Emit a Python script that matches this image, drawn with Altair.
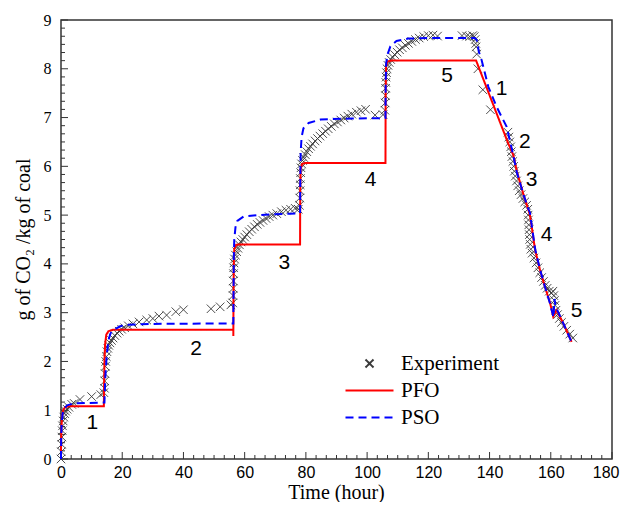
import altair as alt
import pandas as pd

# ---------------- data ----------------
exp_time = [0, 0.1, 0.2, 0.3, 0.4, 0.5, 0.7, 0.9, 1.2, 1.5, 2.0, 2.6, 3.5, 4.3, 6.2, 10.0, 13.0, 14.0,
            14.2, 14.3, 14.4, 14.5, 14.6, 14.8, 15.0, 15.3, 15.6, 16.0, 16.5, 17.0, 17.6, 18.3, 19.0, 19.8,
            20.8, 22.0, 23.5, 25.5, 28.0, 30.0, 32.0, 34.5, 37.5, 40.0, 49.0, 52.0, 55.5,
            56.1, 56.2, 56.25, 56.3, 56.35, 56.4, 56.5, 56.7, 57.0, 57.4, 57.8, 58.3, 58.8, 59.4, 60.0, 60.7,
            61.5, 62.3, 63.2, 64.1, 65.0, 66.0, 67.0, 68.0, 69.2, 70.5, 72.0, 73.5, 75.0, 76.5, 77.5,
            77.9, 78.0, 78.1, 78.15, 78.2, 78.3, 78.4, 78.6, 78.9, 79.3, 79.8, 80.3, 80.9, 81.5, 82.2, 83.0,
            83.8, 84.6, 85.5, 86.4, 87.3, 88.3, 89.3, 90.3, 91.4, 92.5, 93.7, 95.0, 96.5, 98.0, 99.5, 102.6, 105.2,
            105.8, 105.9, 106.0, 106.05, 106.1, 106.2, 106.35, 106.5, 106.8, 107.2, 107.7, 108.3, 109.0, 109.8,
            110.6, 111.5, 112.5, 113.5, 114.6, 115.8, 117.0, 118.5, 120.0, 121.5, 123.0, 131.0, 132.5, 133.5,
            134.5, 135.0, 135.3, 135.5,
            135.6, 135.8, 136.2, 137.8, 140.3, 146.0, 146.3, 146.6, 146.9, 147.1, 147.3, 147.6, 147.9, 148.1,
            148.4, 148.8, 149.2, 149.7, 150.3, 150.9, 151.5, 152.1, 152.5, 152.6, 152.7, 152.8, 152.9, 153.0,
            153.1, 153.3, 153.5, 153.9, 154.5, 155.2, 155.8, 156.4, 157.0, 157.6, 158.2, 158.8, 159.5, 160.2,
            160.7, 161.0, 161.2, 161.4, 161.7, 162.2, 162.8, 163.5, 164.3, 165.2, 166.2, 167.2]
exp_co2 = [0, 0.15, 0.3, 0.45, 0.58, 0.68, 0.78, 0.86, 0.93, 0.98, 1.02, 1.06, 1.12, 1.14, 1.22, 1.28, 1.32, 1.36,
           1.45, 1.6, 1.75, 1.9, 2.0, 2.1, 2.2, 2.27, 2.33, 2.38, 2.43, 2.48, 2.53, 2.58, 2.62, 2.66,
           2.69, 2.73, 2.77, 2.81, 2.85, 2.88, 2.93, 2.95, 3.02, 3.06, 3.08, 3.12, 3.16,
           3.2, 3.35, 3.5, 3.65, 3.8, 3.92, 4.02, 4.1, 4.18, 4.25, 4.32, 4.39, 4.45, 4.5, 4.55, 4.6,
           4.66, 4.71, 4.76, 4.81, 4.85, 4.89, 4.93, 4.97, 5.0, 5.03, 5.07, 5.1, 5.12, 5.14, 5.12,
           5.2, 5.35, 5.5, 5.62, 5.75, 5.87, 5.97, 6.05, 6.12, 6.18, 6.24, 6.3, 6.36, 6.41, 6.46, 6.52,
           6.57, 6.62, 6.67, 6.72, 6.77, 6.82, 6.87, 6.91, 6.95, 6.99, 7.03, 7.07, 7.11, 7.14, 7.17, 7.05, 7.06,
           7.15, 7.3, 7.45, 7.6, 7.72, 7.83, 7.92, 8.0, 8.07, 8.13, 8.19, 8.24, 8.29, 8.34,
           8.39, 8.43, 8.48, 8.52, 8.56, 8.6, 8.63, 8.66, 8.68, 8.69, 8.67, 8.68, 8.67, 8.66,
           8.68, 8.66, 8.6, 8.52,
           8.45, 8.3, 8.0, 7.57, 7.16, 6.7, 6.6, 6.5, 6.4, 6.3, 6.2, 6.1, 6.0, 5.9,
           5.8, 5.7, 5.6, 5.5, 5.42, 5.34, 5.27, 5.2, 5.12, 5.0, 4.9, 4.8, 4.7, 4.6,
           4.5, 4.4, 4.3, 4.22, 4.12, 4.02, 3.92, 3.82, 3.72, 3.64, 3.56, 3.5, 3.44, 3.4,
           3.44, 3.35, 3.25, 3.15, 3.05, 2.96, 2.88, 2.8, 2.72, 2.64, 2.56, 2.48]

pfo_time = [0, 0.1, 0.3, 0.7, 1.3, 2.5, 14.0,
            14.05, 14.2, 14.4, 14.8, 15.5, 17.0, 56.3,
            56.3, 56.35, 56.45, 56.6, 57.2, 58.5, 78.1,
            78.15, 78.3, 78.8, 80.0, 106.0,
            106.05, 106.2, 106.6, 108.0, 135.6,
            146.1, 147.3, 147.8, 148.9, 151.0, 152.7, 153.2, 153.8, 154.9, 156.5, 158.1, 159.8,
            160.8, 161.9, 164.1, 166.8]
pfo_co2 = [0.15, 0.55, 0.85, 1.0, 1.06, 1.08, 1.08,
           1.4, 2.0, 2.35, 2.55, 2.62, 2.65, 2.65,
           2.52, 3.3, 4.0, 4.3, 4.39, 4.4, 4.4,
           5.5, 5.95, 6.05, 6.07, 6.07,
           7.5, 8.05, 8.15, 8.17, 8.17,
           6.47, 6.3, 6.22, 5.9, 5.44, 5.1, 5.0, 4.75, 4.28, 3.87, 3.53, 3.19,
           2.92, 3.05, 2.78, 2.4]

pso_time = [0, 0.05, 0.2, 0.5, 1.0, 2.0, 4.0, 14.2,
            14.25, 14.5, 14.9, 15.5, 16.2, 17.1, 19.3, 22.0, 30.0, 56.3,
            56.35, 56.45, 56.6, 57.0, 57.6, 59.6, 63.9, 74.8, 78.1,
            78.15, 78.3, 78.6, 79.2, 80.9, 84.8, 95.0, 106.0,
            106.05, 106.2, 106.7, 107.6, 109.6, 113.5, 120.0, 135.2,
            135.8, 136.5, 137.4, 139.6, 142.3, 145.6, 147.3, 148.9, 151.0, 152.7, 153.2, 153.8,
            154.9, 156.5, 158.1, 159.8, 160.9, 161.2, 161.5, 162.5, 164.1, 166.8]
pso_co2 = [0.0, 0.4, 0.7, 0.92, 1.03, 1.1, 1.14, 1.16,
           1.3, 1.7, 2.1, 2.44, 2.58, 2.64, 2.72, 2.75, 2.77, 2.78,
           3.3, 4.1, 4.5, 4.75, 4.88, 4.97, 5.0, 5.03, 5.04,
           5.6, 6.3, 6.6, 6.78, 6.89, 6.96, 6.98, 6.99,
           7.6, 8.1, 8.3, 8.46, 8.57, 8.62, 8.63, 8.63,
           8.59, 8.35, 8.18, 7.63, 7.22, 6.81, 6.35, 5.88, 5.44, 5.12, 5.05, 4.78,
           4.3, 3.88, 3.53, 3.18, 2.9, 3.28, 3.15, 3.0, 2.78, 2.4]

label_text = ["1", "2", "3", "4", "5", "1", "2", "3", "4", "5"]
label_time = [10.2, 44.1, 73.0, 101.1, 126.1, 143.9, 151.5, 153.7, 158.6, 168.4]
label_co2 = [0.73, 2.26, 4.01, 5.72, 7.86, 7.59, 6.5, 5.72, 4.59, 3.04]

series_names = ["Experiment", "PFO", "PSO"]
x_tick_labels = [0, 20, 40, 60, 80, 100, 120, 140, 160, 180]
y_tick_labels = [0, 1, 2, 3, 4, 5, 6, 7, 8, 9]

# ---------------- tables ----------------
exp_df = pd.DataFrame({"t": exp_time, "v": exp_co2, "series": "Experiment"})
model_df = pd.concat([
    pd.DataFrame({"t": pfo_time, "v": pfo_co2, "series": "PFO", "idx": range(len(pfo_time))}),
    pd.DataFrame({"t": pso_time, "v": pso_co2, "series": "PSO", "idx": range(len(pso_time))}),
], ignore_index=True)
lab_df = pd.DataFrame({"t": label_time, "v": label_co2, "txt": label_text})

minor_x = [i * 20 / 6 for i in range(55) if i % 6 != 0]
minor_y = [i / 6 for i in range(55) if i % 6 != 0]
xmaj_df = pd.DataFrame({"t": x_tick_labels})
xmin_df = pd.DataFrame({"t": minor_x})
ymaj_df = pd.DataFrame({"v": y_tick_labels})
ymin_df = pd.DataFrame({"v": minor_y})

W, H = 551, 439
xs = alt.Scale(domain=[0, 180], nice=False, zero=False)
ys = alt.Scale(domain=[0, 9], nice=False, zero=False)
x_axis = alt.Axis(
    values=x_tick_labels, title="Time (hour)",
    labelAlign={"condition": {"test": "datum.value === 180", "value": "right"}, "value": "center"},
    labelOffset={"condition": {"test": "datum.value === 180", "value": 7}, "value": 0},
)
y_axis = alt.Axis(values=y_tick_labels, title="g of CO\u2082 /kg of coal")

color_scale = alt.Scale(domain=series_names, range=["#3a3a3a", "#ff0000", "#0000ff"])
shape_scale = alt.Scale(domain=series_names,
                        range=["M-1,-1L1,1M-1,1L1,-1", "M-6,0L6,0", "M-6,0L6,0"])
dash_scale = alt.Scale(domain=series_names, range=[[1, 0], [1, 0], [8, 5]])

X = alt.X("t:Q", scale=xs, axis=x_axis)
Y = alt.Y("v:Q", scale=ys, axis=y_axis)

points = alt.Chart(exp_df).mark_point(filled=False, size=72, opacity=1, strokeWidth=0.9).encode(
    x=X, y=Y,
    color=alt.Color("series:N", scale=color_scale, title=None),
    shape=alt.Shape("series:N", scale=shape_scale, title=None),
)

lines = alt.Chart(model_df).mark_line(strokeWidth=2).encode(
    x=X, y=Y,
    color=alt.Color("series:N", scale=color_scale, title=None),
    strokeDash=alt.StrokeDash("series:N", scale=dash_scale, title=None),
    order=alt.Order("idx:Q"),
)

labels = alt.Chart(lab_df).mark_text(font="Liberation Sans", fontSize=21, color="black",
                                     align="center", baseline="middle").encode(
    x=X, y=Y, text="txt:N",
)

tick_color = "#333333"
xmaj = alt.Chart(xmaj_df).mark_rule(color=tick_color, strokeWidth=1).encode(
    x=X, y=alt.value(H), y2=alt.value(H - 7))
xmin = alt.Chart(xmin_df).mark_rule(color=tick_color, strokeWidth=1).encode(
    x=X, y=alt.value(H), y2=alt.value(H - 4))
ymaj = alt.Chart(ymaj_df).mark_rule(color=tick_color, strokeWidth=1).encode(
    y=Y, x=alt.value(0), x2=alt.value(7))
ymin = alt.Chart(ymin_df).mark_rule(color=tick_color, strokeWidth=1).encode(
    y=Y, x=alt.value(0), x2=alt.value(4))

chart = alt.layer(points, xmaj, xmin, ymaj, ymin, lines, labels).properties(
    width=W, height=H,
    autosize=alt.AutoSizeParams(type="none"),
    padding={"left": 53, "top": 12, "right": 8, "bottom": 43},
).configure_view(
    stroke="#333333", strokeWidth=1.5
).configure_axis(
    grid=False, domain=False, ticks=False, labelFlush=False,
    labelColor="black", titleColor="black",
    titleFont="Liberation Serif", titleFontWeight="normal", titleFontSize=20,
).configure_axisX(
    labelFont="Liberation Sans", labelFontSize=16, labelPadding=5,
    titleX=275, titleY=39, titleBaseline="alphabetic", titleAlign="center",
).configure_axisY(
    labelFont="Liberation Serif", labelFontSize=16, labelPadding=10,
    titleX=-38, titleY=219, titleAngle=270, titleBaseline="middle", titleAlign="center",
).configure_legend(
    orient="none", legendX=298, legendY=333, padding=0,
    labelFont="Liberation Serif", labelFontSize=21, labelColor="black",
    symbolSize=64, symbolStrokeWidth=2, labelOffset=21, rowPadding=5,
)

chart.save("out.html", embed_options={"renderer": "svg", "actions": False})
